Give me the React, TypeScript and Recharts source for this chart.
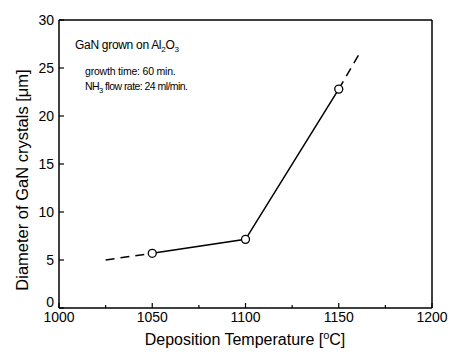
import React from "react";
import { LineChart, Line, XAxis, YAxis } from "recharts";

// measured points (deposition temperature in °C, diameter in µm)
const temps = [1050, 1100, 1150];
const diameters = [5.7, 7.15, 22.8];

// dashed extrapolation at both ends
const lowTemps = [1025, 1050];
const lowDiameters = [5.0, 5.7];
const highTemps = [1150, 1162];
const highDiameters = [22.8, 26.8];

const xTicks = [1000, 1025, 1050, 1075, 1100, 1125, 1150, 1175, 1200];
const yTicks = [0, 5, 10, 15, 20, 25, 30];

const measured = temps.map((t, i) => ({ t, d: diameters[i] }));
const lowDash = lowTemps.map((t, i) => ({ t, d: lowDiameters[i] }));
const highDash = highTemps.map((t, i) => ({ t, d: highDiameters[i] }));

const FONT = "'Liberation Sans', Arial, Helvetica, sans-serif";

const XTick = (props: any) => {
  const { x, y, payload } = props;
  const major = payload.value % 50 === 0;
  return (
    <g>
      <line x1={x} x2={x} y1={y} y2={y - (major ? 5 : 3)} stroke="#000" strokeWidth={1.2} />
      {major && (
        <text x={x} y={y + 14} textAnchor="middle" fontSize={14} fontFamily={FONT} fill="#000">
          {payload.value}
        </text>
      )}
    </g>
  );
};

const YTick = (props: any) => {
  const { x, y, payload } = props;
  // the zero label sits a little higher so it clears the 1000 label
  const dy = payload.value === 0 ? -1 : 5;
  return (
    <g>
      <line x1={x} x2={x + 5} y1={y} y2={y} stroke="#000" strokeWidth={1.2} />
      <text x={x - 5} y={y + dy} textAnchor="end" fontSize={14} fontFamily={FONT} fill="#000">
        {payload.value}
      </text>
    </g>
  );
};

const Dot = (props: any) => {
  const { cx, cy } = props;
  return <circle cx={cx} cy={cy} r={4} fill="#fff" stroke="#000" strokeWidth={1.3} />;
};

const axisStyle = { stroke: "#000", strokeWidth: 1.5 };

export default function App() {
  return (
    <div style={{ position: "absolute", left: 0, top: 0, width: 453, height: 363, background: "#fff" }}>
      <LineChart width={453} height={363} margin={{ top: 19, right: 20, bottom: 25, left: 0 }}>
        <XAxis
          dataKey="t"
          type="number"
          domain={[1000, 1200]}
          ticks={xTicks}
          allowDataOverflow
          height={30}
          tickSize={0}
          tickMargin={0}
          tickLine={false}
          axisLine={axisStyle}
          tick={<XTick />}
          interval={0}
        />
        <XAxis
          xAxisId="top"
          orientation="top"
          type="number"
          domain={[1000, 1200]}
          height={1}
          tick={false}
          tickLine={false}
          axisLine={axisStyle}
        />
        <YAxis
          type="number"
          domain={[0, 30]}
          ticks={yTicks}
          width={59}
          tickSize={0}
          tickMargin={0}
          tickLine={false}
          axisLine={axisStyle}
          tick={<YTick />}
          interval={0}
        />
        <YAxis
          yAxisId="right"
          orientation="right"
          type="number"
          domain={[0, 30]}
          width={1}
          tick={false}
          tickLine={false}
          axisLine={axisStyle}
        />
        <Line data={lowDash} dataKey="d" stroke="#000" strokeWidth={1.5} strokeDasharray="9 6" dot={false} isAnimationActive={false} />
        <Line data={highDash} dataKey="d" stroke="#000" strokeWidth={1.5} strokeDasharray="9 6" dot={false} isAnimationActive={false} />
        <Line data={measured} dataKey="d" stroke="#000" strokeWidth={1.5} dot={<Dot />} isAnimationActive={false} />
      </LineChart>
      <svg
        width={453}
        height={363}
        style={{ position: "absolute", left: 0, top: 0, pointerEvents: "none" }}
        fontFamily={FONT}
      >
        <text x={75} y={49} fontSize={12} letterSpacing={-0.3}>
          GaN grown on Al<tspan fontSize={8} dy={3}>2</tspan>
          <tspan dy={-3}>O</tspan>
          <tspan fontSize={8} dy={3}>3</tspan>
        </text>
        <text x={85} y={75} fontSize={10.5} letterSpacing={-0.2}>growth time: 60 min.</text>
        <text x={85} y={90} fontSize={10.5} letterSpacing={-0.55}>
          NH<tspan fontSize={7.5} dy={3}>3</tspan>
          <tspan dy={-3}> flow rate: 24 ml/min.</tspan>
        </text>
        <text x={245} y={345} fontSize={16} textAnchor="middle">
          Deposition Temperature [<tspan fontSize={11} dy={-6}>o</tspan>
          <tspan dy={6}>C]</tspan>
        </text>
        <text
          x={0}
          y={0}
          fontSize={16.5}
          textAnchor="middle"
          transform="translate(28 180) rotate(-90)"
        >
          Diameter of GaN crystals [μm]
        </text>
      </svg>
    </div>
  );
}
